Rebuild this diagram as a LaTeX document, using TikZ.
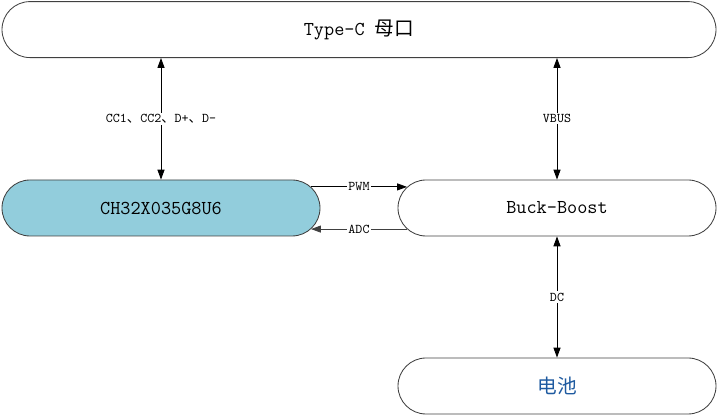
\documentclass[tikz,border=0pt]{standalone}
\usepackage{fontspec}
\newfontfamily\cjk{Noto Sans CJK SC}
\usetikzlibrary{shapes.misc,arrows.meta}
\definecolor{chipblue}{RGB}{146,205,220}
\definecolor{edgegray}{RGB}{64,64,64}
\definecolor{textblue}{RGB}{30,90,160}

\begin{document}
\begin{tikzpicture}[>={Triangle[length=7pt,width=5pt]},
  block/.style={draw=edgegray, line width=0.6pt, rounded rectangle, minimum width=7.95cm, minimum height=1.4cm, inner sep=0pt, font=\ttfamily\fontsize{14}{16}\selectfont},
  sig/.style={fill=white, inner sep=1pt, font=\ttfamily\fontsize{9.5}{11}\selectfont}
]
  \useasboundingbox (0,0) rectangle (17.95,10.4);

  \node[block, minimum width=17.85cm] (typec) at (8.975,9.66) {Type-C {\cjk 母口}};
  \node[block, fill=chipblue] (mcu) at (4.025,5.2) {CH32X035G8U6};
  \node[block] (buck) at (13.925,5.2) {Buck-Boost};
  \node[block, text=textblue] (batt) at (13.925,0.75) {\cjk 电池};

  \draw[<->, line width=0.6pt] (mcu.north |- typec.south) -- node[sig] {CC1{\cjk 、}CC2{\cjk 、}D+{\cjk 、}D-} (mcu.north);
  \draw[<->, line width=0.6pt] (buck.north |- typec.south) -- node[sig] {VBUS} (buck.north);
  \draw[<->, line width=0.6pt] (buck.south) -- node[sig] {DC} (batt.north);
  \draw[->, line width=0.6pt] (mcu.8) -- node[sig] {PWM} (buck.172);
  \draw[->, line width=0.6pt, edgegray] (buck.188) -- node[sig, text=black] {ADC} (mcu.352);
\end{tikzpicture}
\end{document}
